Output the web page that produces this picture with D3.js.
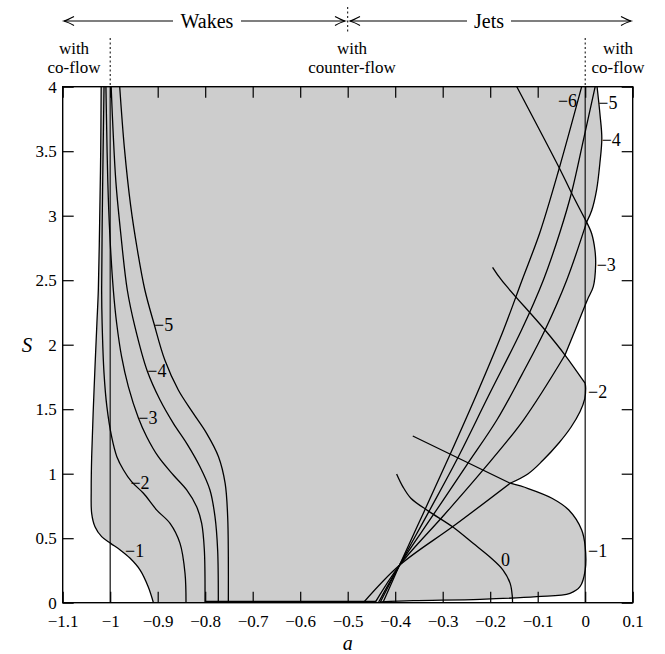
<!DOCTYPE html>
<html>
<head>
<meta charset="utf-8">
<script src="https://cdn.jsdelivr.net/npm/d3@7"></script>
<style>
  body { margin: 0; background: #fff; }
  svg text { font-family: "Liberation Serif", "Times New Roman", serif; fill: #000; }
</style>
</head>
<body>
<svg width="665" height="654"></svg>
<script>
// ---- data (a, S) ----
var xTickValues = [-1.1, -1, -0.9, -0.8, -0.7, -0.6, -0.5, -0.4, -0.3, -0.2, -0.1, 0, 0.1];
var xTickLabels = ['\u22121.1', '\u22121', '\u22120.9', '\u22120.8', '\u22120.7', '\u22120.6', '\u22120.5',
                   '\u22120.4', '\u22120.3', '\u22120.2', '\u22120.1', '0', '0.1'];
var yTickValues = [0, 0.5, 1, 1.5, 2, 2.5, 3, 3.5, 4];
var yTickLabels = ['0', '0.5', '1', '1.5', '2', '2.5', '3', '3.5', '4'];

// wake side contours, bottom to top
var wakeM1 = [[-0.909,0],[-0.920,0.124],[-0.937,0.253],[-0.958,0.344],[-0.979,0.409],[-0.999,0.46],
  [-1.018,0.512],[-1.032,0.589],[-1.039,0.693],[-1.040,0.874],[-1.039,1.132],[-1.034,1.649],
  [-1.028,2.166],[-1.025,2.424],[-1.022,3.0],[-1.020,3.5],[-1.019,4]];
var wakeM2 = [[-0.8404,0],[-0.8425,0.228],[-0.853,0.46],[-0.874,0.615],[-0.902,0.718],[-0.930,0.848],
  [-0.955,0.938],[-0.972,1.029],[-0.986,1.132],[-0.997,1.287],[-1.007,1.52],[-1.013,1.778],
  [-1.017,2.166],[-1.018,2.424],[-1.016,3.2],[-1.013,4]];
var wakeM3 = [[-0.8004,0],[-0.8018,0.408],[-0.8074,0.615],[-0.818,0.744],[-0.839,0.874],[-0.8671,0.99],
  [-0.8987,1.132],[-0.9232,1.287],[-0.9408,1.434],[-0.9618,1.675],[-0.976,1.907],[-0.9864,2.166],
  [-0.9934,2.424],[-1.001,2.87],[-1.005,3.26],[-1.008,3.79],[-1.009,4]];
var wakeM4 = [[-0.7724,0],[-0.7738,0.408],[-0.7794,0.667],[-0.79,0.874],[-0.811,1.054],[-0.839,1.235],
  [-0.867,1.39],[-0.895,1.571],[-0.922,1.796],[-0.948,2.14],[-0.964,2.424],[-0.978,2.87],
  [-0.988,3.26],[-0.994,3.66],[-0.998,4]];
var wakeM5 = [[-0.7513,0],[-0.7513,0.357],[-0.7527,0.667],[-0.758,0.925],[-0.772,1.132],[-0.797,1.313],
  [-0.825,1.468],[-0.8566,1.649],[-0.885,1.881],[-0.908,2.166],[-0.927,2.424],[-0.943,2.74],
  [-0.957,3.08],[-0.970,3.52],[-0.980,4]];

// jet side: fan branches from the crossing near a=-0.39, then lobes along a=0
var jetFan6 = [[-0.426,0],[-0.391,0.29],[-0.34,0.70],[-0.285,1.145],[-0.228,1.62],[-0.172,2.114],
  [-0.133,2.50],[-0.095,2.874],[-0.0545,3.37],[-0.0074,4]];
var jetFan5 = [[-0.432,0],[-0.391,0.29],[-0.33,0.70],[-0.2706,1.106],[-0.204,1.6],[-0.134,2.114],
  [-0.088,2.502],[-0.053,2.874],[-0.0284,3.184],[-0.003,3.6],[0.021,4]];
var jetFan4 = [[-0.4355,0],[-0.391,0.29],[-0.32,0.68],[-0.2495,1.067],[-0.186,1.416],[-0.133,1.77],
  [-0.0846,2.114],[-0.039,2.5],[0.003,2.95]];
var jetLobe4 = [[0.003,2.95],[0.0137,3.04],[0.024,3.2],[0.031,3.41],[0.035,3.6],[0.031,3.79],[0.025,4]];
var jetFan3 = [[-0.4425,0],[-0.391,0.29],[-0.2995,0.67],[-0.218,1.016],[-0.13,1.416],[-0.0425,1.92]];
var jetLobe3 = [[-0.0425,1.92],[-0.021,2.114],[0.0045,2.347],[0.017,2.45],[0.022,2.62],[0.0206,2.73],
  [0.0137,2.86],[0.003,2.95]];
var jetRise3 = [[0.003,2.95],[-0.0298,3.184],[-0.0545,3.37],[-0.144,4]];
var jetFan2 = [[-0.467,0],[-0.391,0.29],[-0.275,0.60],[-0.158,0.926]];
var jetLobe2 = [[-0.158,0.926],[-0.12,1.0],[-0.09,1.10],[-0.055,1.24],[-0.03,1.36],[-0.011,1.48],
  [-0.001,1.58],[0.001,1.66],[0,1.70]];
var jetRise2 = [[0,1.70],[-0.0425,1.92],[-0.0846,2.114],[-0.176,2.5],[-0.195,2.6]];
var jetRise1 = [[-0.363,1.292],[-0.158,0.926]];
var jetLobe1 = [[-0.158,0.926],[-0.12,0.885],[-0.07,0.81],[-0.035,0.72],[-0.0074,0.564],[0,0.434],
  [0,0.253],[-0.011,0.124],[-0.032,0.073],[-0.102,0.047],[-0.221,0.026],[-0.362,0.0155],[-0.43,0.006]];
var zeroCurve = [[-0.397,0.998],[-0.384,0.90],[-0.367,0.81],[-0.33,0.71],[-0.28,0.59],[-0.236,0.46],
  [-0.2,0.352],[-0.173,0.253],[-0.158,0.15],[-0.1535,0.05],[-0.153,0]];
var bottomBand = [[-0.8,0.005],[-0.44,0.005]];

// contour labels: text, a, S, anchor
var contourLabels = [
  ['\u22121', -0.9688, 0.401, 'start'], ['\u22122', -0.9573, 0.932, 'start'],
  ['\u22123', -0.9408, 1.436, 'start'], ['\u22124', -0.9219, 1.796, 'start'],
  ['\u22125', -0.9078, 2.157, 'start'],
  ['\u22121', 0.0059, 0.405, 'start'], ['\u22122', 0.0059, 1.637, 'start'],
  ['\u22123', 0.0242, 2.618, 'start'], ['\u22124', 0.0347, 3.591, 'start'],
  ['\u22125', 0.0276, 3.874, 'start'], ['\u22126', -0.0171, 3.895, 'end'],
  ['0', -0.1677, 0.336, 'middle']
];

// ---- layout ----
var svg = d3.select('svg');
var plot = {l: 62.7, r: 632.7, t: 86.7, b: 602.7};

var x = d3.scaleLinear().domain([-1.1, 0.1]).range([plot.l, plot.r]);
var y = d3.scaleLinear().domain([0, 4]).range([plot.b, plot.t]);

var line = d3.line()
  .x(d => x(d[0]))
  .y(d => y(d[1]))
  .curve(d3.curveCatmullRom.alpha(0.5));

svg.append('clipPath').attr('id', 'clip')
  .append('rect')
  .attr('x', plot.l).attr('y', plot.t)
  .attr('width', plot.r - plot.l).attr('height', plot.b - plot.t);

var g = svg.append('g').attr('clip-path', 'url(#clip)');

// shaded region, built from the same pieces as the contour lines
var regionParts = [
  wakeM1,
  [wakeM1[wakeM1.length - 1], jetLobe4[jetLobe4.length - 1]],
  jetLobe4.slice().reverse(),
  jetLobe3.slice().reverse(),
  jetRise2.slice(0, 2).reverse(),
  jetLobe2.slice().reverse(),
  jetLobe1,
  [jetLobe1[jetLobe1.length - 1], [jetLobe1[jetLobe1.length - 1][0], 0], wakeM1[0]]
];
var regionPath = regionParts.map(function(p, i) {
  var s = line(p);
  return i ? s.replace(/^M/, 'L') : s;
}).join('') + 'Z';

g.append('path')
  .attr('d', regionPath)
  .attr('fill', '#cdcdcd')
  .attr('stroke', 'none');

// vertical reference lines at a = -1 and a = 0
g.selectAll('.vref')
  .data([-1, 0])
  .enter()
  .append('line')
  .attr('class', 'vref')
  .attr('x1', d => x(d)).attr('x2', d => x(d))
  .attr('y1', y(0)).attr('y2', y(4))
  .attr('stroke', '#222')
  .attr('stroke-width', 1.3);

var contours = [wakeM1, wakeM2, wakeM3, wakeM4, wakeM5,
  jetFan6, jetFan5, jetFan4, jetLobe4, jetFan3, jetLobe3, jetRise3,
  jetFan2, jetLobe2, jetRise2, jetRise1, jetLobe1, zeroCurve];

g.selectAll('.contour')
  .data(contours)
  .enter()
  .append('path')
  .attr('class', 'contour')
  .attr('d', line)
  .attr('fill', 'none')
  .attr('stroke', '#000')
  .attr('stroke-width', 1.3)
  .attr('stroke-linejoin', 'round');

g.append('path')
  .datum(bottomBand)
  .attr('d', d3.line().x(d => x(d[0])).y(d => y(d[1])))
  .attr('stroke', '#000')
  .attr('stroke-width', 2.4)
  .attr('fill', 'none');

// ---- axes: inward ticks on all four sides ----
var tick = 11;
var xAxisB = d3.axisBottom(x).tickValues(xTickValues)
  .tickFormat((d, i) => xTickLabels[i])
  .tickSizeInner(-tick).tickSizeOuter(0).tickPadding(12.5);
var xAxisT = d3.axisTop(x).tickValues(xTickValues)
  .tickFormat('').tickSizeInner(-tick).tickSizeOuter(0);
var yAxisL = d3.axisLeft(y).tickValues(yTickValues)
  .tickFormat((d, i) => yTickLabels[i])
  .tickSizeInner(-tick).tickSizeOuter(0).tickPadding(6);
var yAxisR = d3.axisRight(y).tickValues(yTickValues)
  .tickFormat('').tickSizeInner(-tick).tickSizeOuter(0);

function styleAxis(sel) {
  sel.select('.domain').remove();
  sel.selectAll('line').attr('stroke', '#000').attr('stroke-width', 1.2);
  sel.selectAll('text')
    .attr('font-family', '"Liberation Serif", serif')
    .attr('font-size', 17)
    .attr('fill', '#000');
}

svg.append('g').attr('transform', 'translate(0,' + plot.b + ')').call(xAxisB).call(styleAxis);
svg.append('g').attr('transform', 'translate(0,' + plot.t + ')').call(xAxisT).call(styleAxis);
svg.append('g').attr('transform', 'translate(' + plot.l + ',0)').call(yAxisL).call(styleAxis);
svg.append('g').attr('transform', 'translate(' + plot.r + ',0)').call(yAxisR).call(styleAxis);

svg.append('rect')
  .attr('x', plot.l).attr('y', plot.t)
  .attr('width', plot.r - plot.l).attr('height', plot.b - plot.t)
  .attr('fill', 'none')
  .attr('stroke', '#000')
  .attr('stroke-width', 1.4);

// contour labels
svg.selectAll('.clabel')
  .data(contourLabels)
  .enter()
  .append('text')
  .attr('class', 'clabel')
  .attr('x', d => x(d[1]))
  .attr('y', d => y(d[2]))
  .attr('dy', '0.35em')
  .attr('text-anchor', d => d[3])
  .attr('font-size', 18)
  .text(d => d[0]);

// axis titles
svg.append('text')
  .attr('x', x(-0.5)).attr('y', 650)
  .attr('text-anchor', 'middle')
  .attr('font-style', 'italic')
  .attr('font-size', 20)
  .text('a');

svg.append('text')
  .attr('x', 27).attr('y', (plot.t + plot.b) / 2 + 7)
  .attr('text-anchor', 'middle')
  .attr('font-style', 'italic')
  .attr('font-size', 21)
  .text('S');

// ---- header: regime annotations ----
var head = svg.append('g');
var arrowY = 21;

function arrowLine(x1, x2) {
  head.append('line')
    .attr('x1', x1).attr('x2', x2)
    .attr('y1', arrowY).attr('y2', arrowY)
    .attr('stroke', '#000').attr('stroke-width', 1.2);
}
function arrowHead(tipX, dir) {
  // dir = -1 points left, +1 points right
  var b = -dir * 10;
  head.append('path')
    .attr('d', 'M' + (tipX + b) + ',' + (arrowY - 4.5) +
      ' Q' + (tipX + b * 0.35) + ',' + (arrowY - 1) + ' ' + tipX + ',' + arrowY +
      ' Q' + (tipX + b * 0.35) + ',' + (arrowY + 1) + ' ' + (tipX + b) + ',' + (arrowY + 4.5))
    .attr('fill', 'none')
    .attr('stroke', '#000')
    .attr('stroke-width', 1.2);
}

arrowLine(64, 173); arrowLine(241, 345);
arrowHead(64, -1); arrowHead(345, 1);
arrowLine(350, 467); arrowLine(511, 631);
arrowHead(350, -1); arrowHead(631, 1);

head.append('text').attr('x', 207).attr('y', 27.5).attr('text-anchor', 'middle')
  .attr('font-size', 20).text('Wakes');
head.append('text').attr('x', 489).attr('y', 27.5).attr('text-anchor', 'middle')
  .attr('font-size', 20).text('Jets');

function dotted(xp, y1, y2) {
  head.append('line')
    .attr('x1', xp).attr('x2', xp)
    .attr('y1', y1).attr('y2', y2)
    .attr('stroke', '#000').attr('stroke-width', 1)
    .attr('stroke-dasharray', '2,2.5');
}
dotted(x(-1), 38, plot.t);
dotted(x(0), 38, plot.t);
dotted(x(-0.5), 7, 34);

var flowText = [[74, 'with', 'co-flow'], [352, 'with', 'counter-flow'], [618, 'with', 'co-flow']];
flowText.forEach(function(t) {
  head.append('text').attr('x', t[0]).attr('y', 53.5).attr('text-anchor', 'middle')
    .attr('font-size', 17).text(t[1]);
  head.append('text').attr('x', t[0]).attr('y', 72.5).attr('text-anchor', 'middle')
    .attr('font-size', 17).text(t[2]);
});
</script>
</body>
</html>
